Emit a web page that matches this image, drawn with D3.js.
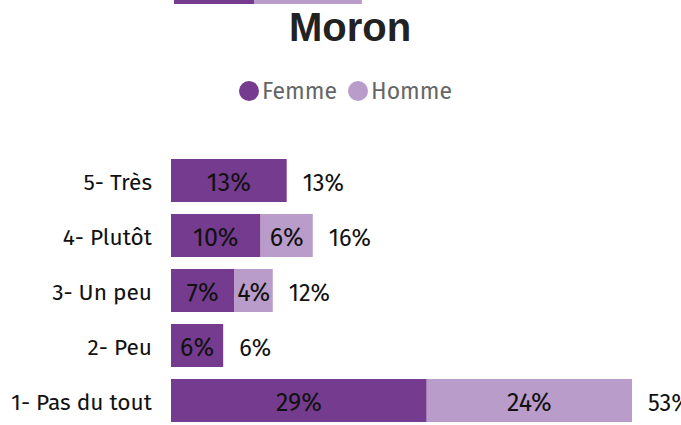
<!DOCTYPE html>
<html>
<head>
<meta charset="utf-8">
<script src="https://cdn.jsdelivr.net/npm/d3@7"></script>
<style>
  html, body { margin: 0; padding: 0; background: #fff; }
  svg { display: block; }
</style>
</head>
<body>
<svg id="chart" width="681" height="425"></svg>
<script>
// Response levels, top to bottom
const categories = ["5- Très", "4- Plutôt", "3- Un peu", "2- Peu", "1- Pas du tout"];
// Share of respondents (%) per level
const femme = [13.3, 10.3, 7.3, 6.0, 29.4];
const homme = [0, 6.0, 4.4, 0, 23.6];
const seriesNames = ["Femme", "Homme"];
const seriesColors = ["#743b8e", "#b99cc9"];
// Last row of the panel above (only its lower edge is visible)
const prevRow = [9.2, 12.4];

const svg = d3.select("#chart");
const font = "'Fira Sans', 'Noto Sans', Roboto, sans-serif";

const x = d3.scaleLinear().domain([0, 53]).range([171, 632]);
const y = d3.scaleBand().domain(categories)
  .range([159, 159 + 5 * 55 - 12]).paddingInner(12 / 55).paddingOuter(0);

const rows = categories.map((c, i) => ({ cat: c, vals: [femme[i], homme[i]] }));
const fmt = v => Math.round(v) + "%";

// Partial bar from the panel above
const xPrev = d3.scaleLinear().domain([0, 53]).range([174, 635]);
let acc = 0;
prevRow.forEach((v, k) => {
  svg.append("rect")
    .attr("x", xPrev(acc)).attr("y", -40)
    .attr("width", xPrev(acc + v) - xPrev(acc)).attr("height", 44)
    .attr("fill", seriesColors[k]);
  acc += v;
});

// Title
svg.append("text")
  .attr("x", 350).attr("y", 41)
  .attr("text-anchor", "middle")
  .attr("font-family", "'Liberation Sans', Arial, sans-serif")
  .attr("font-weight", "bold").attr("font-size", 40)
  .attr("fill", "#222")
  .text("Moron");

// Legend
const legend = svg.append("g");
const legendPos = [249, 358];
seriesNames.forEach((name, k) => {
  legend.append("circle")
    .attr("cx", legendPos[k]).attr("cy", 91).attr("r", 10)
    .attr("fill", seriesColors[k]);
  legend.append("text")
    .attr("x", legendPos[k] + 13).attr("y", 99)
    .attr("font-family", font).attr("font-size", 23)
    .attr("fill", "#666")
    .text(name);
});

// Bars
const rowG = svg.selectAll("g.row").data(rows).join("g").attr("class", "row");

rowG.each(function (d) {
  const g = d3.select(this);
  const mid = y(d.cat) + y.bandwidth() / 2;
  let start = 0;
  d.vals.forEach((v, k) => {
    if (v > 0) {
      g.append("rect")
        .attr("x", x(start)).attr("y", y(d.cat))
        .attr("width", x(start + v) - x(start)).attr("height", y.bandwidth())
        .attr("fill", seriesColors[k]);
      g.append("text")
        .attr("x", (x(start) + x(start + v)) / 2)
        .attr("y", mid + 10.5)
        .attr("text-anchor", "middle")
        .attr("font-family", font).attr("font-size", 25)
        .attr("fill", "#111")
        .text(fmt(v));
    }
    start += v;
  });
  // Total at the bar end
  g.append("text")
    .attr("x", x(start) + 16)
    .attr("y", mid + 10)
    .attr("font-family", font).attr("font-size", 23.5)
    .attr("fill", "#111")
    .text(fmt(start));
  // Category label
  g.append("text")
    .attr("x", 152)
    .attr("y", mid + 9)
    .attr("text-anchor", "end")
    .attr("font-family", font).attr("font-size", 22.7)
    .attr("fill", "#111")
    .text(d.cat);
});
</script>
</body>
</html>
